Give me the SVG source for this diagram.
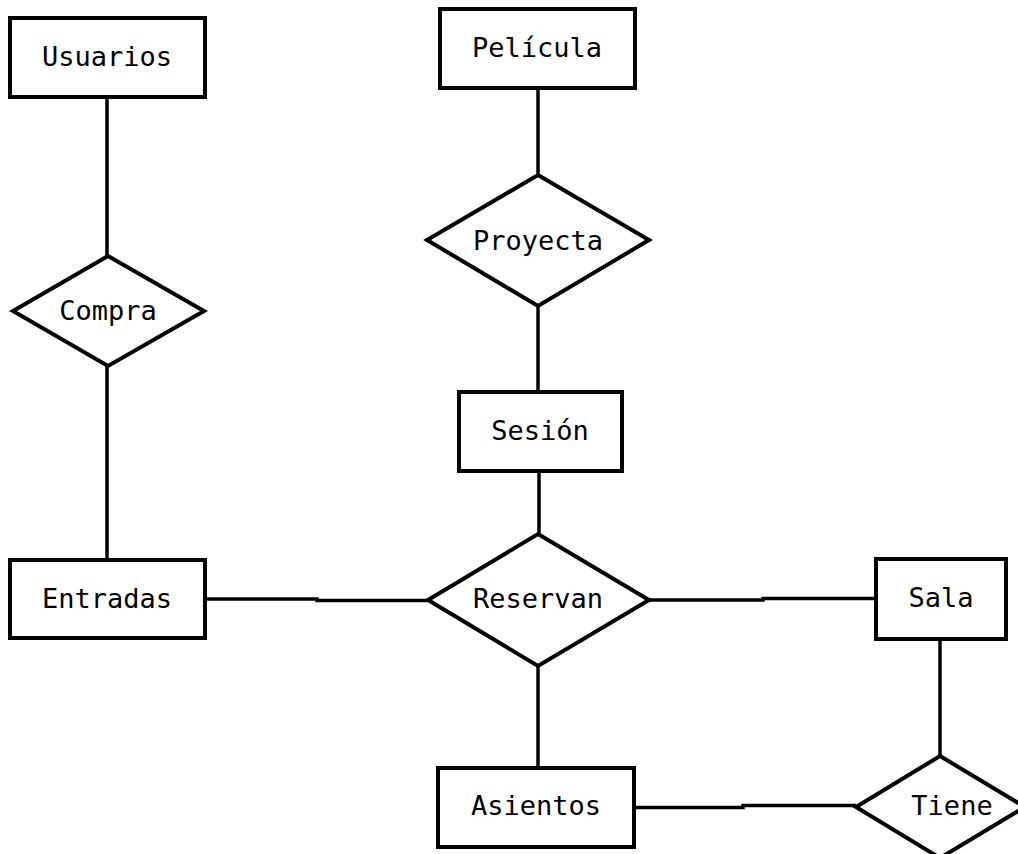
<svg xmlns="http://www.w3.org/2000/svg" width="1018" height="854" viewBox="0 0 1018 854">
<style>
.shape{fill:#fff;stroke:#000;stroke-width:4}
.conn{fill:none;stroke:#000;stroke-width:3.5}
text{font-family:"DejaVu Sans Mono","Liberation Mono",monospace;font-size:27px;fill:#000;text-anchor:middle;dominant-baseline:central}
</style>
<rect width="1018" height="854" fill="#fff"/>
<g id="connectors">
<path class="conn" d="M107 97 V256"/>
<path class="conn" d="M107 366 V560"/>
<path class="conn" d="M538 88 V175"/>
<path class="conn" d="M538 306 V392"/>
<path class="conn" d="M539 471 V534"/>
<path class="conn" d="M205 599 H317 V600.5 H428"/>
<path class="conn" d="M649 600 H763 V598.5 H875"/>
<path class="conn" d="M538 666 V768"/>
<path class="conn" d="M940 639 V756"/>
<path class="conn" d="M634 807.5 H743 V805.5 H856"/>
</g>
<g id="usuarios"><rect class="shape" x="10" y="18" width="195" height="79"/><text x="107" y="56">Usuarios</text></g>
<g id="compra"><polygon class="shape" points="108,256 204,311 108,366 13,311"/><text x="108" y="310">Compra</text></g>
<g id="entradas"><rect class="shape" x="10" y="560" width="195" height="78"/><text x="107" y="598">Entradas</text></g>
<g id="pelicula"><rect class="shape" x="440" y="9" width="195" height="79"/><text x="537" y="47">Película</text></g>
<g id="proyecta"><polygon class="shape" points="538,175 649,240 538,306 427,240"/><text x="538" y="240">Proyecta</text></g>
<g id="sesion"><rect class="shape" x="459" y="392" width="163" height="79"/><text x="540" y="430">Sesión</text></g>
<g id="reservan"><polygon class="shape" points="538,534 649,600 538,666 428,600"/><text x="538" y="598">Reservan</text></g>
<g id="sala"><rect class="shape" x="876" y="559" width="130" height="80"/><text x="941" y="597">Sala</text></g>
<g id="asientos"><rect class="shape" x="438" y="768" width="196" height="79"/><text x="536" y="805">Asientos</text></g>
<g id="tiene"><polygon class="shape" points="940,756 1025,807 940,858 856,807"/><text x="952" y="805">Tiene</text></g>
</svg>
